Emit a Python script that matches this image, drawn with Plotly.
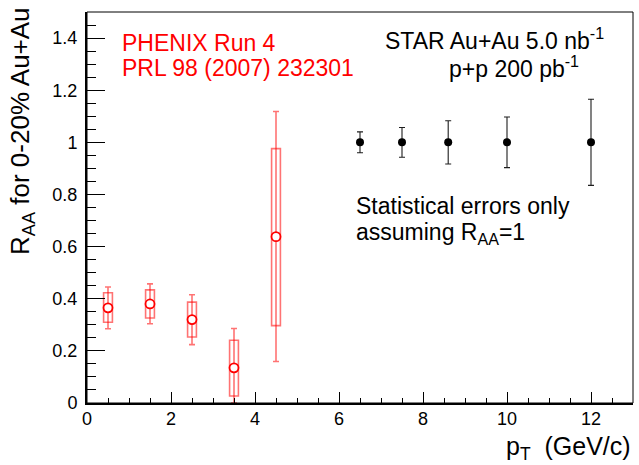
import plotly.graph_objects as go

# PHENIX Run 4 (red, open circles, stat bars + systematic boxes)
phx_pt = [0.5, 1.5, 2.5, 3.5, 4.5]
phx_raa = [0.365, 0.380, 0.320, 0.135, 0.638]
phx_stat_up = [0.080, 0.077, 0.095, 0.151, 0.480]
phx_stat_dn = [0.080, 0.076, 0.096, 0.135, 0.479]
phx_sys_up = [0.058, 0.054, 0.067, 0.106, 0.338]
phx_sys_dn = [0.055, 0.054, 0.067, 0.108, 0.341]

# STAR projected points (black, filled circles)
star_pt = [6.5, 7.5, 8.6, 10.0, 12.0]
star_raa = [1.0, 1.0, 1.0, 1.0, 1.0]
star_err = [0.040, 0.057, 0.083, 0.097, 0.165]

x_ticks = [0, 2, 4, 6, 8, 10, 12]
y_ticks = [0, 0.2, 0.4, 0.6, 0.8, 1.0, 1.2, 1.4]
y_tick_text = ["0", "0.2", "0.4", "0.6", "0.8", "1", "1.2", "1.4"]

FONT = "Liberation Sans, Arial, Helvetica, sans-serif"
RED = "rgb(255,0,0)"
RED_T = "rgba(255,0,0,0.55)"

sys_base = [r - d for r, d in zip(phx_raa, phx_sys_dn)]
sys_height = [u + d for u, d in zip(phx_sys_up, phx_sys_dn)]

fig = go.Figure()

fig.add_trace(go.Bar(
    x=phx_pt, y=sys_height, base=sys_base, width=0.21,
    marker=dict(color="rgba(0,0,0,0)", line=dict(color=RED_T, width=1.6)),
    showlegend=False, hoverinfo="skip",
))

fig.add_trace(go.Scatter(
    x=phx_pt, y=phx_raa, mode="markers",
    marker=dict(symbol="circle", size=9, color="white", line=dict(width=1.8, color=RED)),
    error_y=dict(type="data", symmetric=False, array=phx_stat_up, arrayminus=phx_stat_dn,
                 color=RED_T, thickness=1.6, width=3),
    showlegend=False,
))

fig.add_trace(go.Scatter(
    x=star_pt, y=star_raa, mode="markers",
    marker=dict(symbol="circle", size=8, color="black"),
    error_y=dict(type="data", array=star_err, color="rgb(30,30,30)", thickness=1.1, width=3),
    showlegend=False,
))

fig.update_layout(
    width=639, height=465,
    margin=dict(l=87, r=6, t=12, b=62),
    paper_bgcolor="white", plot_bgcolor="white",
    barmode="overlay",
    font=dict(family=FONT, size=18, color="black"),
    xaxis=dict(
        range=[0, 13], tickvals=x_ticks, ticks="inside", ticklen=11, tickwidth=1,
        tickcolor="black", showgrid=False, zeroline=False,
        showline=True, linecolor="black", linewidth=2,
        tickfont=dict(size=18, family=FONT), ticklabelstandoff=-2,
        minor=dict(dtick=0.5, ticks="inside", ticklen=5.5, tickcolor="black", tickwidth=1, showgrid=False),
    ),
    yaxis=dict(
        range=[0, 1.5], tickvals=y_ticks, ticktext=y_tick_text, ticks="inside", ticklen=18,
        tickwidth=1, tickcolor="black", showgrid=False, zeroline=False,
        showline=True, linecolor="black", linewidth=2,
        tickfont=dict(size=18, family=FONT), ticklabelstandoff=4,
        minor=dict(dtick=0.05, ticks="inside", ticklen=9, tickcolor="black", tickwidth=1, showgrid=False),
    ),
    shapes=[dict(type="rect", xref="paper", yref="paper", x0=0, x1=1, y0=0, y1=1,
                 line=dict(color="black", width=1), layer="above")],
)

ann_font = dict(family=FONT, size=23)
annotations = [
    dict(text="PHENIX Run 4", x=0.786, y=1.381, font=dict(ann_font, color=RED)),
    dict(text="PRL 98 (2007) 232301", x=0.786, y=1.285, font=dict(ann_font, color=RED)),
    dict(text="STAR Au+Au 5.0 nb<sup>-1</sup>", x=7.05, y=1.395, font=ann_font),
    dict(text="p+p 200 pb<sup>-1</sup>", x=8.57, y=1.29, font=ann_font),
    dict(text="Statistical errors only", x=6.357, y=0.756, font=ann_font),
    dict(text="assuming R<sub>AA</sub>=1", x=6.357, y=0.652, font=ann_font),
]
for a in annotations:
    fig.add_annotation(xref="x", yref="y", xanchor="left", yanchor="middle",
                       showarrow=False, **a)

fig.add_annotation(text="R<sub>AA</sub> for 0-20% Au+Au", xref="paper", yref="paper",
                   x=-0.119, y=1.018, xanchor="center", yanchor="top", textangle=-90,
                   showarrow=False, font=dict(family=FONT, size=26))
fig.add_annotation(text="p<sub>T</sub>  (GeV/c)", xref="paper", yref="paper",
                   x=1.0, y=-0.115, xanchor="right", yanchor="middle",
                   showarrow=False, font=dict(family=FONT, size=25))

fig.write_html("out.html", config={"displayModeBar": False},
               post_script="document.body.style.margin='0px';")
